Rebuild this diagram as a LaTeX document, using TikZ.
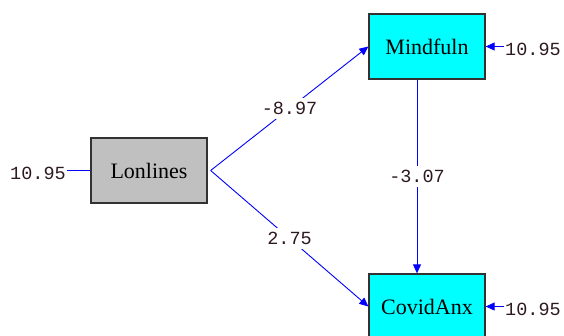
\documentclass[tikz,border=0pt]{standalone}
\usepackage{fontspec}
\setmainfont{Liberation Serif}
\setmonofont{Liberation Mono}
\usetikzlibrary{arrows.meta}
\definecolor{numcol}{RGB}{45,25,30}
\definecolor{boxline}{RGB}{50,50,50}
\definecolor{grayfill}{RGB}{192,192,192}
\definecolor{cyanfill}{RGB}{0,255,255}
\definecolor{lineblue}{RGB}{0,0,255}
\tikzset{
  varbox/.style={draw=boxline, line width=1.3pt, minimum width=116pt, minimum height=65pt, inner sep=0pt, font=\fontsize{22}{24}\selectfont},
  numlab/.style={font=\ttfamily\fontsize{18.5}{20}\selectfont, text=numcol, inner sep=1pt},
  path/.style={draw=lineblue, line width=0.9pt},
  arr/.style={path, -{Triangle[length=9pt,width=8pt]}},
  midlab/.style={numlab, fill=white, inner sep=4pt}
}
\begin{document}
\begin{tikzpicture}[x=1pt,y=-1pt]
\useasboundingbox (0,0) rectangle (564,335);
\node[varbox, fill=grayfill] (lon) at (149,170.5) {Lonlines};
\node[varbox, fill=cyanfill] (mind) at (427,46.5) {Mindfuln};
\node[varbox, fill=cyanfill] (cov) at (427,306.5) {CovidAnx};
\node[numlab] (e1) at (38,173) {10.95};
\node[numlab, anchor=west] (e2) at (504,49) {10.95};
\node[numlab, anchor=west] (e3) at (504,309) {10.95};
\draw[path] (e1.east |- lon.west) -- (lon.west);
\draw[arr] (e2.west |- mind.east) -- (mind.east);
\draw[arr] (e3.west |- cov.east) -- (cov.east);
\draw[arr] ([xshift=3pt]lon.east) -- node[midlab] {-8.97} (mind.west);
\draw[arr] ([xshift=3pt]lon.east) -- node[midlab] {2.75} (cov.west);
\draw[arr] ([xshift=-10pt]mind.south) -- node[midlab] {-3.07} ([xshift=-10pt]cov.north);
\end{tikzpicture}
\end{document}
